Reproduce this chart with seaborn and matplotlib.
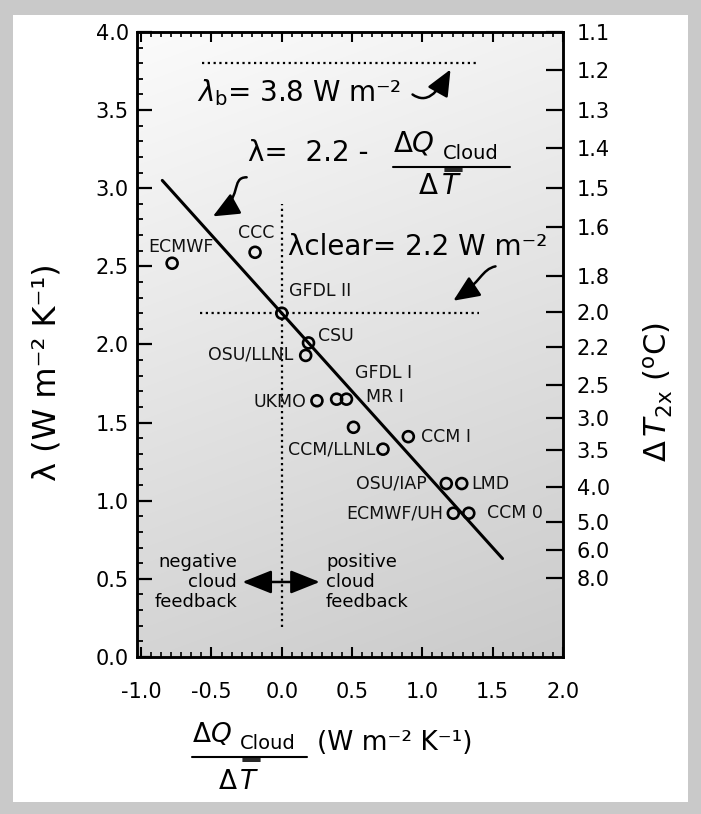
import numpy as np
import matplotlib
matplotlib.use("Agg")
import matplotlib.pyplot as plt
import seaborn as sns
from matplotlib.patches import Rectangle, FancyArrowPatch
from matplotlib.path import Path
from matplotlib.lines import Line2D
from matplotlib.ticker import AutoMinorLocator, MultipleLocator, NullLocator

# Cloud feedback (dQ_cloud / dT, W m-2 K-1) and climate sensitivity parameter
# lambda (W m-2 K-1) for each general circulation model
models = ["ECMWF", "CCC", "GFDL II", "CSU", "OSU/LLNL", "UKMO", "GFDL I", "MR I",
          "", "CCM/LLNL", "CCM I", "OSU/IAP", "LMD", "ECMWF/UH", "CCM 0"]
dq_cloud = [-0.78, -0.19, 0.00, 0.19, 0.17, 0.25, 0.39, 0.46,
            0.51, 0.72, 0.90, 1.17, 1.28, 1.22, 1.33]
lam = [2.52, 2.59, 2.20, 2.01, 1.93, 1.64, 1.65, 1.65,
       1.47, 1.33, 1.41, 1.11, 1.11, 0.92, 0.92]

lam_clear = 2.2      # clear-sky value
lam_b = 3.8          # blackbody value
fit_x = np.array([-0.85, 1.57])  # extent of lambda = 2.2 - dQ/dT

# Right-hand scale: warming for doubled CO2 and the lambda it sits at
dt2x_labels = ["1.1", "1.2", "1.3", "1.4", "1.5", "1.6", "1.8", "2.0",
               "2.2", "2.5", "3.0", "3.5", "4.0", "5.0", "6.0", "8.0"]
dt2x_at_lam = [4.0, 3.757, 3.50, 3.258, 3.00, 2.752, 2.44, 2.208,
               1.984, 1.74, 1.53, 1.325, 1.088, 0.864, 0.685, 0.506]

x_ticks = [-1.0, -0.5, 0.0, 0.5, 1.0, 1.5, 2.0]
y_ticks = [0.0, 0.5, 1.0, 1.5, 2.0, 2.5, 3.0, 3.5, 4.0]

# label placement around each marker: (dx, dy) in pixels and alignment
label_place = {
    "ECMWF": (9, 16, "center"), "CCC": (1, 19, "center"),
    "GFDL II": (7, 22, "left"), "CSU": (10, 7, "left"),
    "OSU/LLNL": (-12, 1, "right"), "UKMO": (-11, -1, "right"),
    "GFDL I": (18, 26, "left"), "MR I": (20, 2, "left"),
    "CCM/LLNL": (-8, 0, "right"), "CCM I": (13, 0, "left"),
    "OSU/IAP": (-20, 0, "right"), "LMD": (10, 0, "left"),
    "ECMWF/UH": (-10, 0, "right"), "CCM 0": (18, 0, "left"),
}

sns.set_theme(style="ticks")
plt.rcParams["font.family"] = ["DejaVu Sans"]
plt.rcParams["mathtext.fontset"] = "dejavusans"
plt.rcParams["axes.unicode_minus"] = False

fig = plt.figure(figsize=(7.01, 8.14), dpi=100, facecolor="#c9c9c9")
fig.patches.append(Rectangle((13 / 701, 1 - 802 / 814), 675 / 701, 787 / 814,
                             transform=fig.transFigure, facecolor="white",
                             edgecolor="none", zorder=-5))
ax = fig.add_axes([0.1954, 0.1929, 0.6077, 0.7678])

# soft grey shading of the plotting area
yy, xx = np.mgrid[1:0:200j, 0:1:200j]
shade = 0.985 - 0.19 * ((1 - yy) * 0.8 + xx * 0.2)
ax.imshow(np.dstack([shade] * 3), extent=[0, 1, 0, 1], transform=ax.transAxes,
          aspect="auto", zorder=0, interpolation="bilinear")

# reference lines
dot = dict(color="black", lw=1.6, linestyle=(0, (1, 1.6)), zorder=2)
ax.plot([-0.57, 1.40], [lam_b, lam_b], **dot)
ax.plot([-0.58, 1.40], [lam_clear, lam_clear], **dot)
ax.plot([0.0, 0.0], [0.19, 2.9], **dot)

# lambda = 2.2 - dQ/dT
sns.lineplot(x=fit_x, y=lam_clear - fit_x, color="black", lw=2.2, ax=ax, zorder=3)

# models
sns.scatterplot(x=dq_cloud, y=lam, marker="o", s=62, facecolor="none",
                edgecolor="black", linewidth=1.9, ax=ax, zorder=4)

small = dict(fontsize=12.5, color="#111111")
for name, xv, yv in zip(models, dq_cloud, lam):
    if not name:
        continue
    dx, dy, ha = label_place[name]
    ax.annotate(name, (xv, yv), xytext=(dx, dy), textcoords="offset pixels",
                ha=ha, va="center", **small)

ax.set_xlim(-1.03, 2.0)
ax.set_ylim(0, 4)
ax.set_xticks(x_ticks)
ax.set_xticklabels([f"{v:.1f}" for v in x_ticks])
ax.set_yticks(y_ticks)
ax.set_yticklabels([f"{v:.1f}" for v in y_ticks])
ax.xaxis.set_minor_locator(AutoMinorLocator(7))
ax.yaxis.set_minor_locator(MultipleLocator(0.1))
ax.tick_params(axis="x", which="both", direction="in", top=True, bottom=True,
               labelsize=15, pad=18, colors="black")
ax.tick_params(axis="x", which="major", length=7, width=1.5)
ax.tick_params(axis="x", which="minor", length=3.5, width=1.2)
ax.tick_params(axis="y", which="both", direction="in", left=True, right=False,
               labelsize=15, pad=6, colors="black")
ax.tick_params(axis="y", which="major", length=11, width=1.6)
ax.tick_params(axis="y", which="minor", length=4.5, width=1.3)
for s in ax.spines.values():
    s.set_linewidth(1.8)
    s.set_color("black")
ax.grid(False)

ax2 = ax.twinx()
ax2.set_ylim(0, 4)
ax2.set_yticks(dt2x_at_lam)
ax2.set_yticklabels(dt2x_labels)
ax2.yaxis.set_minor_locator(NullLocator())
ax2.tick_params(axis="y", direction="in", length=12, width=1.6, pad=10,
                labelsize=15, colors="black")
for s in ax2.spines.values():
    s.set_linewidth(1.8)
    s.set_color("black")
ax2.grid(False)

ax.set_ylabel("\u03bb (W m\u207b\u00b2 K\u207b\u00b9)", fontsize=23,
              va="center", color="black")
ax.yaxis.set_label_coords(-0.211, 0.456)
ax2.set_ylabel(r"$\Delta\,T_{\rm 2x}$ ($^{\rm o}$C)", fontsize=22, rotation=90,
               va="center", color="black")
ax2.yaxis.set_label_coords(1.223, 0.424)

big = dict(fontsize=20, color="black")

# blackbody annotation
ax.text(-0.60, 3.56, "$\\lambda_{\\rm b}$= 3.8 W m\u207b\u00b2", ha="left",
        va="baseline", **big)

def curved_arrow(pts, lw=1.8, head=0.8, width=0.35):
    codes = [Path.MOVETO] + [Path.CURVE4] * 3
    arr = FancyArrowPatch(path=Path(pts, codes),
                          arrowstyle=f"-|>,head_length={head},head_width={width}",
                          mutation_scale=20, lw=lw, color="black", zorder=5)
    ax.add_patch(arr)

# "dQ_cloud / dT" stacked fraction; the mean-temperature T carries a double bar
def cloud_fraction(x0, x1, y_bar, size, sub_size, drop):
    px = size * fig.dpi / 72.0
    to_data = ax.transData.inverted()
    bx0, by = ax.transData.transform((x0, y_bar))
    bx1, _ = ax.transData.transform((x1, y_bar))
    num = ax.text(x0, to_data.transform((bx0, by + 0.55 * px))[1], r"$\Delta Q$",
                  ha="left", va="baseline", fontsize=size, color="black",
                  clip_on=False)
    fig.canvas.draw()
    nb = num.get_window_extent()
    sx, sy = to_data.transform((nb.x1 + 0.3 * px, by + 0.3 * px))
    ax.text(sx, sy, "Cloud", ha="left", va="baseline", fontsize=sub_size,
            color="black", clip_on=False)
    ax.add_line(Line2D([bx0, bx1], [by, by], transform=None, color="black",
                       lw=1.5, clip_on=False))
    cx = bx0 + 0.41 * (bx1 - bx0)
    dy = by - drop * px
    ax.text(*to_data.transform((cx - 0.1 * px, dy)), "\u0394", ha="right",
            va="baseline", fontsize=size, color="black", clip_on=False)
    t_txt = ax.text(*to_data.transform((cx, dy)), r"$T$", ha="left",
                    va="baseline", fontsize=size, color="black", clip_on=False)
    fig.canvas.draw()
    tb = t_txt.get_window_extent()
    for k in (0.07, 0.16):
        yb = by - k * px
        ax.add_line(Line2D([tb.x0 + 0.16 * px, tb.x1 + 0.02 * px], [yb, yb],
                           transform=None, color="black", lw=1.2,
                           clip_on=False))

# regression formula
ax.text(-0.24, 3.174, "\u03bb=  2.2 -", ha="left", va="baseline", **big)
cloud_fraction(0.79, 1.62, 3.136, 20, 14, 0.97)
curved_arrow([(-0.25, 3.07), (-0.37, 3.07), (-0.27, 2.93), (-0.49, 2.82)])

# clear-sky annotation
ax.text(0.044, 2.573, "\u03bbclear= 2.2 W m\u207b\u00b2", ha="left",
        va="baseline", **big)
curved_arrow([(1.52, 2.50), (1.42, 2.48), (1.42, 2.40), (1.22, 2.28)])
curved_arrow([(0.93, 3.60), (1.03, 3.54), (1.10, 3.60), (1.20, 3.76)])

# feedback sign
feed = dict(fontsize=13, color="black", linespacing=1.15, va="center")
ax.text(-0.318, 0.48, "negative\ncloud\nfeedback", ha="right",
        multialignment="right", **feed)
ax.text(0.314, 0.48, "positive\ncloud\nfeedback", ha="left",
        multialignment="left", **feed)
ax.add_patch(FancyArrowPatch((-0.28, 0.48), (0.27, 0.48),
                             arrowstyle="<|-|>,head_length=1.0,head_width=0.4",
                             mutation_scale=18, lw=1.8, color="black",
                             shrinkA=0, shrinkB=0, zorder=5))

# x-axis title
cloud_fraction(-0.638, 0.179, -0.64, 19, 14, 1.2)
ax.text(0.25, -0.595, "(W m\u207b\u00b2 K\u207b\u00b9)", ha="left",
        va="baseline", clip_on=False, fontsize=19, color="black")

fig.savefig("out.png", dpi=100, facecolor=fig.get_facecolor())
